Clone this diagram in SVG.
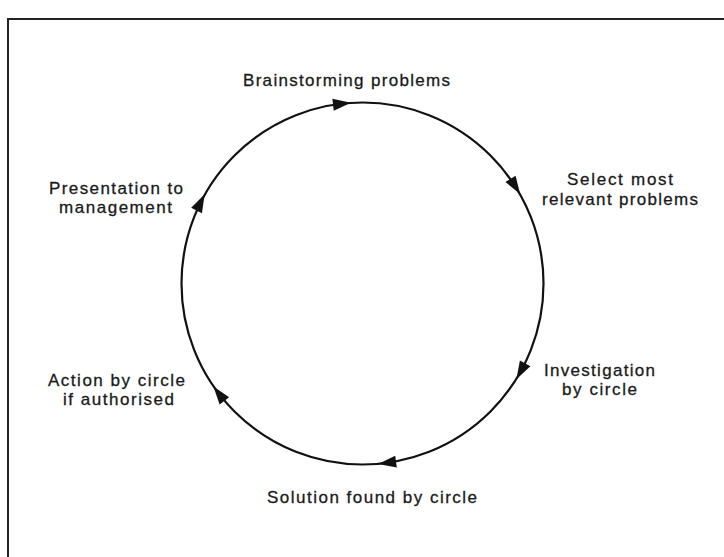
<svg xmlns="http://www.w3.org/2000/svg" xmlns:xlink="http://www.w3.org/1999/xlink" width="724" height="557" viewBox="0 0 724 557">
<style>
  .lbl { font-family: "Liberation Sans", Arial, sans-serif; font-size: 17px; fill: #1a1a1a; stroke: #1a1a1a; stroke-width: 0.3; text-anchor: middle; }
  .frame { fill: none; stroke: #222; stroke-width: 2; }
  .ring { fill: none; stroke: #111; stroke-width: 2.2; }
  .head { fill: #111; }
</style>
<defs>
  <path id="ah" d="M9,0 L-9,-6 L-9,6 Z"/>
</defs>
<rect width="724" height="557" fill="#ffffff"/>
<path class="frame" d="M8,557 L8,19 L724,19"/>
<g id="connectors">
  <circle class="ring" cx="362.5" cy="283.5" r="181"/>
  <use class="head" xlink:href="#ah" href="#ah" transform="translate(342,103.7) rotate(-6.5)"/>
  <use class="head" xlink:href="#ah" href="#ah" transform="translate(515.3,186.5) rotate(57.6)"/>
  <use class="head" xlink:href="#ah" href="#ah" transform="translate(520.8,371.3) rotate(119)"/>
  <use class="head" xlink:href="#ah" href="#ah" transform="translate(387.1,462.8) rotate(172.2)"/>
  <use class="head" xlink:href="#ah" href="#ah" transform="translate(218.9,393.7) rotate(232.5)"/>
  <use class="head" xlink:href="#ah" href="#ah" transform="translate(200.6,202.4) rotate(296.6)"/>
</g>
<g id="brainstorming">
  <text class="lbl" x="346.5" y="86" textLength="207" lengthAdjust="spacing">Brainstorming problems</text>
</g>
<g id="select">
  <text class="lbl" x="620" y="185" textLength="106" lengthAdjust="spacing">Select most</text>
  <text class="lbl" x="620" y="205" textLength="156" lengthAdjust="spacing">relevant problems</text>
</g>
<g id="investigation">
  <text class="lbl" x="599.5" y="376" textLength="111" lengthAdjust="spacing">Investigation</text>
  <text class="lbl" x="599.5" y="395" textLength="75" lengthAdjust="spacing">by circle</text>
</g>
<g id="solution">
  <text class="lbl" x="372" y="503" textLength="210" lengthAdjust="spacing">Solution found by circle</text>
</g>
<g id="action">
  <text class="lbl" x="116.5" y="386" textLength="137" lengthAdjust="spacing">Action by circle</text>
  <text class="lbl" x="118.5" y="405" textLength="111" lengthAdjust="spacing">if authorised</text>
</g>
<g id="presentation">
  <text class="lbl" x="116" y="194" textLength="134" lengthAdjust="spacing">Presentation to</text>
  <text class="lbl" x="115.5" y="213" textLength="113" lengthAdjust="spacing">management</text>
</g>
</svg>
